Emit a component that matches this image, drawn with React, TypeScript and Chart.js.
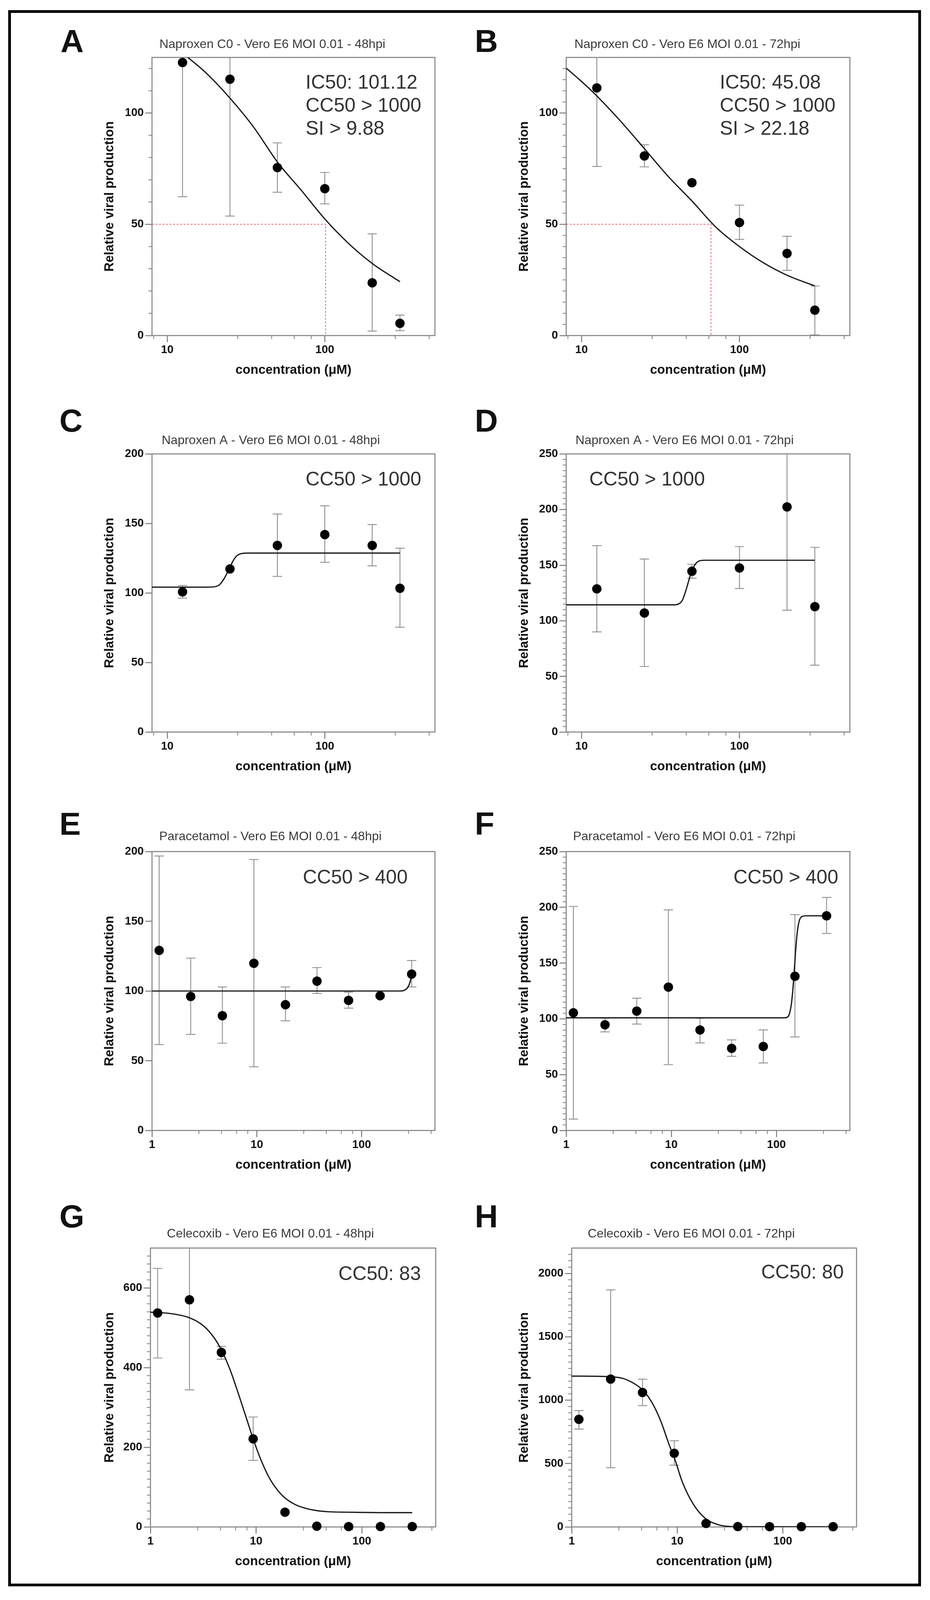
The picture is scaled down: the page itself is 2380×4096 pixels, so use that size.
import React, { useEffect, useRef } from "react";
import { Chart, registerables } from "chart.js";

Chart.register(...registerables);

// ---------------- data ----------------
const concNaproxen = [12.5, 25, 50, 100, 200, 300];
const concDilution = [1.17, 2.34, 4.69, 9.375, 18.75, 37.5, 75, 150, 300];

const xTicksNaproxen = [10, 100];
const xTicksDilution = [1, 10, 100];
const xMinorNaproxen = [8.2, 28, 46, 64, 82, 280, 460];
const xMinorDilution = [2.8, 4.6, 6.4, 8.2, 28, 46, 64, 82, 280, 460];

// A  Naproxen C0 48 hpi
const meanA = [122.7, 115.2, 75.5, 66.0, 23.7, 5.5];
const lowA = [62.4, 53.7, 64.4, 59.2, 2.0, 2.2];
const highA = [183.0, 176.7, 86.6, 73.3, 45.7, 9.2];
const fitXA = [12, 13.5, 17.7, 25, 35.4, 50, 70.7, 100, 141, 200, 300];
const fitYA = [127.8, 125, 117.9, 106.7, 93.6, 78, 65.4, 52.4, 41.5, 32.4, 24.2];
const ic50A = 101.12;
const notesA = ["IC50: 101.12", "CC50 > 1000", "SI > 9.88"];
const yTicksA = [0, 50, 100];

// B  Naproxen C0 72 hpi
const meanB = [111.3, 80.7, 68.7, 50.8, 36.9, 11.4];
const lowB = [76.0, 75.8, 68.7, 43.2, 29.3, 0.3];
const highB = [146.6, 85.8, 68.7, 58.6, 44.6, 22.3];
const fitXB = [8, 10, 12.5, 17.7, 25, 35.4, 50, 70.7, 100, 141, 200, 300];
const fitYB = [120.2, 114.2, 107.7, 96.3, 84.0, 71.5, 60.5, 48.8, 40.0, 32.8, 27.1, 22.3];
const ic50B = 66;
const notesB = ["IC50: 45.08", "CC50 > 1000", "SI > 22.18"];
const yTicksB = [0, 50, 100];

// C  Naproxen A 48 hpi
const meanC = [100.8, 117.3, 134.2, 142.0, 134.2, 103.4];
const lowC = [96.3, 117.3, 111.9, 122.0, 119.5, 75.4];
const highC = [105.4, 117.3, 156.8, 162.7, 149.2, 132.2];
const fitXC = [8, 18, 20, 21.5, 23, 24.5, 26, 27.5, 29.5, 33, 300];
const fitYC = [104.2, 104.2, 104.5, 106, 110.5, 116.5, 122.5, 126.5, 128.3, 128.7, 128.7];
const notesC = ["CC50 > 1000"];
const yTicksC = [0, 50, 100, 150, 200];

// D  Naproxen A 72 hpi
const meanD = [128.7, 107.0, 144.5, 147.5, 202.3, 112.7];
const lowD = [90.0, 58.9, 138.2, 129.0, 109.5, 60.1];
const highD = [167.5, 155.5, 150.8, 166.7, 295.0, 166.0];
const fitXD = [8, 38, 41, 43.5, 45.5, 47.5, 49.5, 52, 55, 60, 300];
const fitYD = [114.3, 114.3, 115, 118.5, 126, 135, 143.5, 150, 153.5, 154.4, 154.4];
const notesD = ["CC50 > 1000"];
const yTicksD = [0, 50, 100, 150, 200, 250];

// E  Paracetamol 48 hpi
const meanE = [129.1, 96.1, 82.3, 119.9, 90.2, 107.1, 93.3, 96.6, 112.1];
const lowE = [61.6, 68.9, 62.6, 45.6, 78.6, 98.3, 87.7, 96.6, 102.9];
const highE = [196.8, 123.6, 102.9, 194.3, 102.9, 116.8, 99.2, 96.6, 121.9];
const fitXE = [1, 230, 255, 275, 290, 300];
const fitYE = [100, 100, 100.5, 102.5, 106.5, 112];
const notesE = ["CC50 > 400"];
const yTicksE = [0, 50, 100, 150, 200];

// F  Paracetamol 72 hpi
const meanF = [105.5, 94.7, 107.0, 128.5, 90.1, 73.6, 75.3, 138.2, 192.4];
const lowF = [10.2, 88.4, 95.4, 59.0, 78.5, 66.5, 60.5, 83.8, 176.6];
const highF = [200.8, 100.6, 118.6, 197.7, 100.6, 81.2, 90.1, 193.5, 208.9];
const fitXF = [1, 120, 130, 137, 142, 147, 152, 158, 165, 175, 190, 300];
const fitYF = [101, 101, 102.5, 110, 122, 140, 160, 178, 188, 191.8, 192.4, 192.4];
const notesF = ["CC50 > 400"];
const yTicksF = [0, 50, 100, 150, 200, 250];

// G  Celecoxib 48 hpi
const meanG = [537, 570, 438, 221, 37, 2, 1, 1, 1];
const lowG = [424, 344, 421, 167, 37, 2, 1, 1, 1];
const highG = [649, 796, 453, 276, 37, 2, 1, 1, 1];
const fitXG = [1, 1.5, 2.34, 3.2, 4, 4.72, 5.7, 6.8, 8, 9.375, 11, 13.4, 16, 19.1, 23.5, 28.3, 37.5, 50, 75, 150, 300];
const fitYG = [539, 536, 525, 504, 475, 443, 393, 334, 277, 221, 171, 122, 92, 71, 56, 48, 41, 38, 37, 36, 36];
const notesG = ["CC50: 83"];
const yTicksG = [0, 200, 400, 600];

// H  Celecoxib 72 hpi
const meanH = [849, 1166, 1061, 581, 28, 3, 2, 2, 2];
const lowH = [772, 467, 957, 487, 28, 3, 2, 2, 2];
const highH = [918, 1870, 1166, 680, 28, 3, 2, 2, 2];
const fitXH = [1, 2.36, 3.3, 4.76, 5.9, 7.03, 8.37, 9.52, 11.2, 14.2, 18.6, 24, 29, 40, 300];
const fitYH = [1190, 1185, 1162, 1076, 967, 829, 650, 531, 353, 180, 65, 20, 6, 2, 1];
const notesH = ["CC50: 80"];
const yTicksH = [0, 500, 1000, 1500, 2000];

// ---------------- styling / layout ----------------
const FONT = '"Liberation Sans", Arial, Helvetica, sans-serif';
const FRAME = "#808080";
const ERR = "#8e8e8e";

type Frame = { l: number; t: number; r: number; b: number };

type PanelDef = {
  letter: string;
  title: string;
  notes: string[];
  conc: number[];
  mean: number[];
  low: number[];
  high: number[];
  fitX: number[];
  fitY: number[];
  ic50?: number;
  xMin: number;
  xMax: number;
  xTicks: number[];
  xMinor: number[];
  yMax: number;
  yTicks: number[];
  yMinor: number;
  frame: Frame;
  titleX: number;
  titleY: number;
  yTitleX: number;
  noteX: number;
  noteY: number;
  letterX: number;
  letterY: number;
};

const panels: PanelDef[] = [
  {
    letter: "A", title: "Naproxen C0 - Vero E6 MOI 0.01 - 48hpi", notes: notesA,
    conc: concNaproxen, mean: meanA, low: lowA, high: highA, fitX: fitXA, fitY: fitYA, ic50: ic50A,
    xMin: 8, xMax: 500, xTicks: xTicksNaproxen, xMinor: xMinorNaproxen,
    yMax: 125, yTicks: yTicksA, yMinor: 10,
    frame: { l: 389, t: 147, r: 1113, b: 859 }, titleX: 697, titleY: 114, yTitleX: 281,
    noteX: 782, noteY: 213, letterX: 155, letterY: 64,
  },
  {
    letter: "B", title: "Naproxen C0 - Vero E6 MOI 0.01 - 72hpi", notes: notesB,
    conc: concNaproxen, mean: meanB, low: lowB, high: highB, fitX: fitXB, fitY: fitYB, ic50: ic50B,
    xMin: 8, xMax: 500, xTicks: xTicksNaproxen, xMinor: xMinorNaproxen,
    yMax: 125, yTicks: yTicksB, yMinor: 5,
    frame: { l: 1449, t: 147, r: 2175, b: 859 }, titleX: 1759, titleY: 114, yTitleX: 1342,
    noteX: 1842, noteY: 213, letterX: 1215, letterY: 64,
  },
  {
    letter: "C", title: "Naproxen A - Vero E6 MOI 0.01 - 48hpi", notes: notesC,
    conc: concNaproxen, mean: meanC, low: lowC, high: highC, fitX: fitXC, fitY: fitYC,
    xMin: 8, xMax: 500, xTicks: xTicksNaproxen, xMinor: xMinorNaproxen,
    yMax: 200, yTicks: yTicksC, yMinor: 0,
    frame: { l: 389, t: 1162, r: 1113, b: 1874 }, titleX: 693, titleY: 1128, yTitleX: 281,
    noteX: 782, noteY: 1229, letterX: 152, letterY: 1036,
  },
  {
    letter: "D", title: "Naproxen A - Vero E6 MOI 0.01 - 72hpi", notes: notesD,
    conc: concNaproxen, mean: meanD, low: lowD, high: highD, fitX: fitXD, fitY: fitYD,
    xMin: 8, xMax: 500, xTicks: xTicksNaproxen, xMinor: xMinorNaproxen,
    yMax: 250, yTicks: yTicksD, yMinor: 5,
    frame: { l: 1449, t: 1162, r: 2175, b: 1874 }, titleX: 1752, titleY: 1128, yTitleX: 1342,
    noteX: 1508, noteY: 1229, letterX: 1215, letterY: 1036,
  },
  {
    letter: "E", title: "Paracetamol - Vero E6 MOI 0.01 - 48hpi", notes: notesE,
    conc: concDilution, mean: meanE, low: lowE, high: highE, fitX: fitXE, fitY: fitYE,
    xMin: 1, xMax: 500, xTicks: xTicksDilution, xMinor: xMinorDilution,
    yMax: 200, yTicks: yTicksE, yMinor: 0,
    frame: { l: 389, t: 2180, r: 1113, b: 2894 }, titleX: 692, titleY: 2142, yTitleX: 281,
    noteX: 775, noteY: 2248, letterX: 152, letterY: 2068,
  },
  {
    letter: "F", title: "Paracetamol - Vero E6 MOI 0.01 - 72hpi", notes: notesF,
    conc: concDilution, mean: meanF, low: lowF, high: highF, fitX: fitXF, fitY: fitYF,
    xMin: 1, xMax: 500, xTicks: xTicksDilution, xMinor: xMinorDilution,
    yMax: 250, yTicks: yTicksF, yMinor: 5,
    frame: { l: 1449, t: 2180, r: 2175, b: 2894 }, titleX: 1751, titleY: 2142, yTitleX: 1342,
    noteX: 1877, noteY: 2248, letterX: 1215, letterY: 2068,
  },
  {
    letter: "G", title: "Celecoxib - Vero E6 MOI 0.01 - 48hpi", notes: notesG,
    conc: concDilution, mean: meanG, low: lowG, high: highG, fitX: fitXG, fitY: fitYG,
    xMin: 1, xMax: 500, xTicks: xTicksDilution, xMinor: xMinorDilution,
    yMax: 700, yTicks: yTicksG, yMinor: 20,
    frame: { l: 385, t: 3195, r: 1115, b: 3909 }, titleX: 692, titleY: 3159, yTitleX: 281,
    noteX: 866, noteY: 3263, letterX: 152, letterY: 3073,
  },
  {
    letter: "H", title: "Celecoxib - Vero E6 MOI 0.01 - 72hpi", notes: notesH,
    conc: concDilution, mean: meanH, low: lowH, high: highH, fitX: fitXH, fitY: fitYH,
    xMin: 1, xMax: 500, xTicks: xTicksDilution, xMinor: xMinorDilution,
    yMax: 2200, yTicks: yTicksH, yMinor: 50,
    frame: { l: 1463, t: 3195, r: 2192, b: 3909 }, titleX: 1769, titleY: 3159, yTitleX: 1342,
    noteX: 1948, noteY: 3259, letterX: 1215, letterY: 3073,
  },
];

const PAD_L = 170;
const PAD_T = 80;
const PAD_R = 60;
const PAD_B = 130;

function makeDecor(p: PanelDef, box: { left: number; top: number }) {
  return {
    id: "decor" + p.letter,
    beforeDatasetsDraw(chart: any) {
      const { ctx, chartArea: a } = chart;
      const xs = chart.scales.x;
      const ys = chart.scales.y;
      ctx.save();
      // frame box
      ctx.strokeStyle = FRAME;
      ctx.lineWidth = 2.6;
      ctx.strokeRect(a.left, a.top, a.right - a.left, a.bottom - a.top);
      // minor ticks
      ctx.lineWidth = 2;
      ctx.beginPath();
      if (p.yMinor > 0) {
        for (let v = p.yMinor; v < p.yMax; v += p.yMinor) {
          if (p.yTicks.indexOf(v) >= 0) continue;
          const py = ys.getPixelForValue(v);
          ctx.moveTo(a.left - 9, py);
          ctx.lineTo(a.left, py);
        }
      }
      p.xMinor.forEach((v) => {
        if (v <= p.xMin || v >= p.xMax) return;
        const px = xs.getPixelForValue(v);
        ctx.moveTo(px, a.bottom);
        ctx.lineTo(px, a.bottom + 9);
      });
      ctx.stroke();
      // error bars (clipped to plot area)
      ctx.beginPath();
      ctx.rect(a.left, a.top, a.right - a.left, a.bottom - a.top);
      ctx.clip();
      ctx.strokeStyle = ERR;
      ctx.lineWidth = 2.2;
      p.conc.forEach((c, i) => {
        if (p.high[i] - p.low[i] < 0.5) return;
        const px = xs.getPixelForValue(c);
        const yl = ys.getPixelForValue(p.low[i]);
        const yh = ys.getPixelForValue(p.high[i]);
        ctx.beginPath();
        ctx.moveTo(px, yl);
        ctx.lineTo(px, yh);
        ctx.moveTo(px - 12, yl);
        ctx.lineTo(px + 12, yl);
        ctx.moveTo(px - 12, yh);
        ctx.lineTo(px + 12, yh);
        ctx.stroke();
      });
      ctx.restore();
    },
    afterDraw(chart: any) {
      const { ctx, chartArea: a } = chart;
      ctx.save();
      // title
      ctx.fillStyle = "#3a3a3a";
      ctx.font = `32px ${FONT}`;
      ctx.textAlign = "center";
      ctx.textBaseline = "middle";
      ctx.fillText(p.title, p.titleX - box.left, p.titleY - box.top);
      // annotations
      ctx.fillStyle = "#333333";
      ctx.font = `50px ${FONT}`;
      ctx.textAlign = "left";
      p.notes.forEach((t, i) => {
        ctx.fillText(t, p.noteX - box.left, p.noteY - box.top + i * 59);
      });
      // axis titles
      ctx.fillStyle = "#111111";
      ctx.font = `bold 33px ${FONT}`;
      ctx.textAlign = "center";
      ctx.fillText("concentration (μM)", (a.left + a.right) / 2, a.bottom + 89);
      ctx.translate(p.yTitleX - box.left, (a.top + a.bottom) / 2);
      ctx.rotate(-Math.PI / 2);
      ctx.fillText("Relative viral production", 0, 0);
      ctx.restore();
    },
  };
}

function PanelChart({ p }: { p: PanelDef }) {
  const ref = useRef<HTMLCanvasElement | null>(null);
  const left = p.frame.l - PAD_L;
  const top = p.frame.t - PAD_T;
  const w = p.frame.r - p.frame.l + PAD_L + PAD_R;
  const h = p.frame.b - p.frame.t + PAD_T + PAD_B;

  useEffect(() => {
    const canvas = ref.current;
    if (!canvas) return;
    const datasets: any[] = [
      {
        label: "data",
        data: p.conc.map((c, i) => ({ x: c, y: p.mean[i] })),
        showLine: false,
        pointRadius: 12,
        pointBackgroundColor: "#000000",
        pointBorderWidth: 0,
        borderWidth: 0,
        clip: false,
        order: 0,
      },
      {
        label: "fit",
        data: p.fitX.map((c, i) => ({ x: c, y: p.fitY[i] })),
        showLine: true,
        pointRadius: 0,
        borderColor: "#1a1a1a",
        borderWidth: 3.2,
        cubicInterpolationMode: "monotone",
        order: 1,
      },
    ];
    if (p.ic50) {
      datasets.push({
        label: "ic50",
        data: [
          { x: p.xMin, y: 50 },
          { x: p.ic50, y: 50 },
          { x: p.ic50, y: 0 },
        ],
        showLine: true,
        pointRadius: 0,
        borderColor: "#e2555c",
        borderWidth: 1.8,
        borderDash: [5, 4],
        order: 2,
      });
    }
    const tickFont = { family: FONT, size: 29, weight: "bold" as const };
    const chart = new Chart(canvas, {
      type: "scatter",
      data: { datasets },
      options: {
        responsive: false,
        animation: false,
        devicePixelRatio: 1,
        events: [],
        layout: { padding: { left: 0, top: PAD_T, right: PAD_R, bottom: 0 }, autoPadding: false },
        plugins: {
          legend: { display: false },
          title: { display: false },
          tooltip: { enabled: false },
        },
        scales: {
          x: {
            type: "logarithmic",
            position: "bottom",
            min: p.xMin,
            max: p.xMax,
            afterBuildTicks: (s: any) => {
              s.ticks = p.xTicks.map((v) => ({ value: v }));
            },
            afterFit: (s: any) => {
              s.height = PAD_B;
            },
            ticks: {
              callback: (v: any) => String(v),
              font: tickFont,
              color: "#111111",
              padding: 3,
              maxRotation: 0,
              autoSkip: false,
            },
            grid: { drawOnChartArea: false, drawTicks: true, tickLength: 17, color: FRAME, lineWidth: 2.6 },
            border: { display: false },
          },
          y: {
            type: "linear",
            position: "left",
            min: 0,
            max: p.yMax,
            afterBuildTicks: (s: any) => {
              s.ticks = p.yTicks.map((v) => ({ value: v }));
            },
            afterFit: (s: any) => {
              s.width = PAD_L;
            },
            ticks: {
              callback: (v: any) => String(v),
              font: tickFont,
              color: "#111111",
              padding: 4,
              autoSkip: false,
            },
            grid: { drawOnChartArea: false, drawTicks: true, tickLength: 17, color: FRAME, lineWidth: 2.6 },
            border: { display: false },
          },
        },
      } as any,
      plugins: [makeDecor(p, { left, top })],
    });
    return () => chart.destroy();
  }, []);

  return (
    <canvas
      ref={ref}
      width={w}
      height={h}
      style={{ position: "absolute", left, top, width: w, height: h }}
    />
  );
}

export default function App() {
  return (
    <div
      style={{
        position: "absolute",
        left: 0,
        top: 0,
        width: 2380,
        height: 4096,
        background: "#ffffff",
        overflow: "hidden",
        fontFamily: FONT,
      }}
    >
      <div
        style={{
          position: "absolute",
          left: 21,
          top: 26,
          width: 2336,
          height: 4035,
          border: "7px solid #000000",
          boxSizing: "border-box",
        }}
      />
      {panels.map((p) => (
        <div
          key={"l" + p.letter}
          style={{
            position: "absolute",
            left: p.letterX,
            top: p.letterY,
            fontSize: 82,
            lineHeight: "82px",
            fontWeight: "bold",
            color: "#111111",
            fontFamily: FONT,
          }}
        >
          {p.letter}
        </div>
      ))}
      {panels.map((p) => (
        <PanelChart key={p.letter} p={p} />
      ))}
    </div>
  );
}
